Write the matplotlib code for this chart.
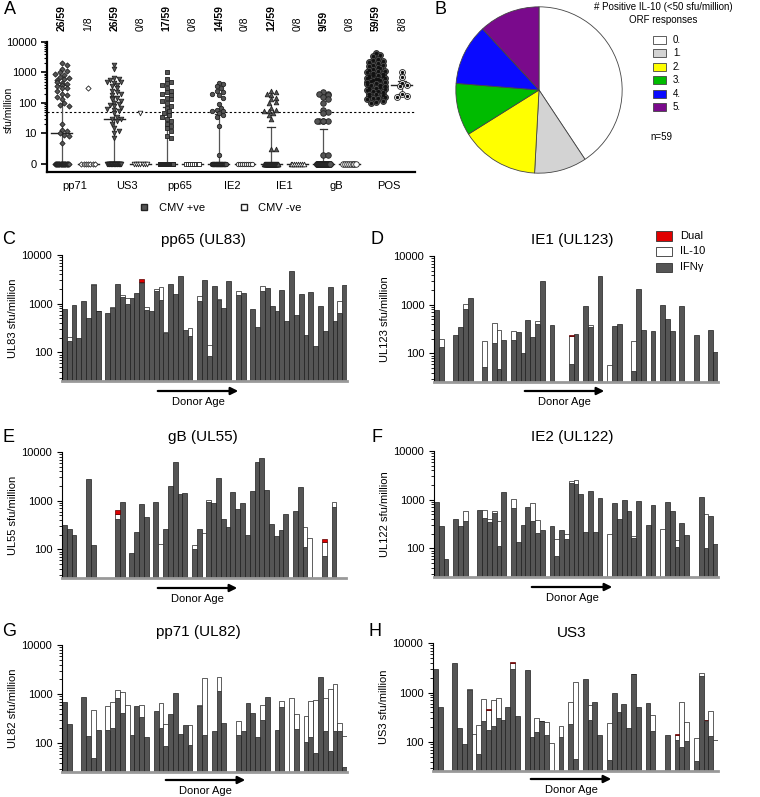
import numpy as np
import matplotlib
matplotlib.use("Agg")
import matplotlib.pyplot as plt
from matplotlib.patches import Rectangle, FancyArrowPatch
from matplotlib.lines import Line2D
from matplotlib.ticker import FixedLocator, NullFormatter

plt.rcParams['font.family'] = ['Liberation Sans', 'DejaVu Sans']

# ---------------- DATA ----------------
# panel A: sfu/million per donor (CMV+ n=59, CMV- n=8), 0 = no response
orfs = ["pp71", "US3", "pp65", "IE2", "IE1", "gB", "POS"]
pos_counts = ["26/59", "26/59", "17/59", "14/59", "12/59", "9/59", "59/59"]
neg_counts = ["1/8", "0/8", "0/8", "0/8", "0/8", "0/8", "8/8"]

pp71_pos = [2100, 1700, 1300, 1100, 1000, 900, 800, 700, 650, 600, 550, 500, 450, 420, 400,
            350, 300, 300, 250, 200, 180, 160, 130, 100, 85, 80, 20, 13, 12, 10, 9, 8, 5] + [0] * 26
us3_pos = [1800, 1300, 650, 600, 550, 500, 500, 450, 400, 350, 300, 250, 220, 200, 180, 150,
           130, 120, 100, 90, 85, 80, 70, 65, 60, 55, 45, 35, 30, 30, 25, 20, 15, 12, 10, 7] + [0] * 23
pp65_pos = [1000, 600, 500, 450, 400, 300, 250, 220, 200, 180, 150, 130, 120, 100, 80, 70, 55,
            45, 40, 35, 30, 25, 20, 18, 15, 12, 8, 7] + [0] * 31
ie2_pos = [450, 420, 350, 300, 250, 230, 200, 180, 150, 90, 70, 60, 55, 55, 45, 40, 35, 18, 2] + [0] * 40
ie1_pos = [250, 230, 200, 180, 150, 130, 110, 100, 70, 60, 55, 55, 45, 40, 30, 3, 3] + [0] * 42
gb_pos = [220, 200, 190, 180, 160, 130, 100, 60, 52, 45, 25, 25, 25, 25, 25, 2, 2] + [0] * 42
posctl_pos = [4500, 3800, 3500, 2800, 2500, 2300, 2200, 2000, 1800, 1700,
              1600, 1500, 1400, 1300, 1200, 1150, 1100, 1000, 950, 900,
              850, 800, 780, 750, 700, 680, 650, 620, 600, 580,
              550, 520, 500, 480, 450, 430, 400, 380, 360, 340,
              320, 300, 290, 280, 260, 250, 240, 220, 200, 190,
              180, 170, 160, 150, 140, 130, 120, 110, 100]

pp71_neg = [300, 0, 0, 0, 0, 0, 0, 0]
us3_neg = [45, 0, 0, 0, 0, 0, 0, 0]
pp65_neg = [0, 0, 0, 0, 0, 0, 0, 0]
ie2_neg = [0, 0, 0, 0, 0, 0, 0, 0]
ie1_neg = [0, 0, 0, 0, 0, 0, 0, 0]
gb_neg = [0, 0, 0, 0, 0, 0, 0, 0]
posctl_neg = [1000, 700, 450, 400, 350, 200, 170, 160]

# panel B: number of positive IL-10 ORF responses per donor
pie_labels = ["0.", "1.", "2.", "3.", "4.", "5."]
pie_counts = [24, 6, 9, 6, 7, 7]

# panels C-H: per donor (ordered by age), IFNg, IL-10 and dual sfu/million, 0 = none
pp65_ifn = [790, 175, 925, 200, 1130, 512, 2450, 710, 0, 660, 830, 2580, 1365, 1000, 1300, 1700, 2650, 755, 720, 1860,
            1220, 246, 2580, 1620, 3640, 288, 218, 0, 1130, 3070, 85, 2350, 1170, 830, 2970, 0, 1545, 1670, 0, 770,
            326, 1800, 2110, 880, 710, 1890, 445, 4590, 580, 1570, 228, 1780, 133, 880, 275, 2180, 438, 647, 2460]
pp65_il10 = [0, 36, 0, 0, 0, 0, 60, 10, 0, 0, 30, 0, 155, 300, 0, 0, 200, 100, 0, 120,
             1030, 16, 0, 0, 0, 0, 98, 0, 300, 0, 58, 0, 90, 0, 0, 0, 255, 0, 0, 0,
             0, 550, 0, 0, 0, 0, 0, 0, 0, 0, 0, 0, 0, 0, 0, 0, 0, 483, 0]
pp65_dual = [0, 0, 0, 0, 0, 0, 0, 0, 0, 0, 0, 0, 0, 0, 0, 0, 300, 0, 0, 0,
             0, 0, 0, 0, 0, 0, 0, 0, 0, 0, 0, 0, 0, 0, 0, 0, 0, 0, 0, 0,
             0, 0, 0, 0, 0, 0, 0, 0, 0, 0, 0, 0, 0, 0, 0, 0, 0, 0, 0]

ie1_ifn = [790, 137, 0, 0, 237, 350, 830, 1390, 0, 0, 52, 0, 165, 47, 187, 0, 193, 272, 103, 494,
           218, 397, 3040, 0, 379, 0, 0, 0, 62, 248, 0, 925, 350, 0, 3900, 0, 0, 373, 410, 0,
           0, 43, 2120, 300, 0, 290, 0, 970, 502, 290, 0, 925, 0, 0, 244, 0, 0, 309, 108]
ie1_il10 = [0, 59, 0, 0, 0, 0, 186, 0, 0, 0, 130, 0, 251, 253, 0, 0, 97, 0, 0, 0,
            0, 60, 0, 0, 0, 0, 0, 0, 164, 0, 0, 0, 40, 0, 0, 0, 56, 0, 0, 0,
            0, 139, 0, 0, 0, 0, 0, 0, 0, 0, 0, 0, 0, 0, 0, 0, 0, 0, 0]
ie1_dual = [0, 0, 0, 0, 0, 0, 0, 0, 0, 0, 0, 0, 0, 0, 0, 0, 0, 0, 0, 0,
            0, 0, 0, 0, 0, 0, 0, 0, 18, 0, 0, 0, 0, 0, 0, 0, 0, 0, 0, 0,
            0, 0, 0, 0, 0, 0, 0, 0, 0, 0, 0, 0, 0, 0, 0, 0, 0, 0, 0]

gb_ifn = [311, 258, 197, 0, 0, 2790, 123, 0, 0, 0, 0, 430, 940, 0, 83, 227, 854, 455, 0, 924,
          0, 258, 2000, 6120, 1350, 1440, 0, 103, 258, 0, 940, 910, 2870, 427, 283, 1480, 674, 900, 200, 1580,
          6300, 7500, 1630, 340, 190, 250, 525, 0, 625, 1900, 115, 0, 0, 0, 75, 0, 750, 0, 0]
gb_il10 = [0, 0, 0, 0, 0, 0, 0, 0, 0, 0, 0, 100, 0, 0, 0, 0, 0, 0, 0, 0,
           130, 0, 0, 0, 0, 0, 0, 22, 0, 213, 76, 0, 0, 0, 0, 0, 0, 0, 0, 0,
           0, 0, 0, 0, 0, 0, 0, 0, 0, 0, 173, 175, 0, 0, 70, 0, 200, 0, 0]
gb_dual = [0, 0, 0, 0, 0, 0, 0, 0, 0, 0, 0, 110, 0, 0, 0, 0, 0, 0, 0, 0,
           0, 0, 0, 0, 0, 0, 0, 0, 0, 0, 0, 0, 0, 0, 0, 0, 0, 0, 0, 0,
           0, 0, 0, 0, 0, 0, 0, 0, 0, 0, 0, 0, 0, 0, 20, 0, 0, 0, 0]

ie2_ifn = [910, 284, 62, 0, 406, 284, 364, 0, 0, 617, 425, 347, 537, 111, 1450, 0, 667, 135, 297, 720,
           375, 208, 235, 0, 292, 70, 242, 160, 2250, 2140, 1300, 218, 1520, 218, 1080, 0, 0, 870, 406, 1000,
           600, 167, 955, 0, 297, 790, 0, 0, 883, 600, 105, 337, 187, 0, 0, 1150, 100, 467, 122]
ie2_il10 = [0, 0, 0, 0, 0, 0, 216, 0, 0, 0, 192, 59, 63, 253, 0, 0, 363, 0, 0, 0,
            480, 179, 0, 0, 0, 90, 0, 41, 180, 360, 0, 0, 0, 0, 0, 0, 201, 0, 0, 0,
            0, 11, 0, 0, 0, 0, 0, 246, 0, 0, 47, 0, 0, 0, 0, 0, 412, 0, 0]
ie2_dual = [0] * 59

pp71_ifn = [700, 246, 0, 0, 883, 143, 50, 189, 0, 189, 205, 817, 412, 0, 150, 580, 337, 137, 0, 459,
            205, 86, 393, 1050, 154, 239, 93, 0, 580, 150, 0, 175, 1170, 260, 0, 0, 145, 178, 657, 412,
            137, 297, 855, 0, 186, 537, 0, 0, 195, 0, 108, 137, 63, 2280, 180, 70, 180, 175, 33]
pp71_il10 = [0, 0, 0, 0, 0, 0, 431, 0, 0, 373, 495, 383, 698, 600, 0, 0, 271, 0, 0, 0,
             452, 160, 0, 0, 0, 0, 142, 0, 28, 2030, 0, 0, 1080, 0, 0, 0, 145, 0, 0, 0,
             0, 303, 0, 0, 0, 196, 0, 817, 198, 0, 245, 596, 705, 0, 637, 1190, 1460, 79, 105]
pp71_dual = [0] * 59

us3_ifn = [2930, 501, 0, 0, 3980, 191, 90, 1130, 0, 58, 271, 179, 215, 302, 280, 501, 3020, 331, 0, 2800,
           126, 158, 263, 140, 0, 0, 124, 0, 229, 46, 0, 1850, 284, 631, 140, 0, 44, 970, 410, 584,
           194, 2350, 501, 0, 612, 166, 0, 0, 140, 0, 112, 80, 103, 0, 42, 2150, 263, 130, 0]
us3_il10 = [0, 0, 0, 0, 0, 0, 0, 36, 147, 164, 465, 271, 487, 480, 0, 0, 960, 0, 0, 0,
            0, 149, 7, 111, 96, 0, 91, 0, 422, 1587, 0, 0, 274, 0, 0, 0, 196, 0, 0, 0,
            0, 60, 0, 0, 0, 186, 0, 0, 0, 0, 24, 551, 148, 0, 78, 360, 12, 287, 108]
us3_dual = [0, 0, 0, 0, 0, 0, 0, 0, 0, 0, 0, 15, 0, 0, 0, 0, 250, 0, 0, 0,
            0, 0, 0, 0, 0, 0, 0, 0, 0, 0, 0, 0, 0, 0, 0, 0, 0, 0, 0, 0,
            0, 0, 0, 0, 0, 0, 0, 0, 0, 0, 8, 0, 0, 0, 0, 0, 10, 0, 0]

# ---------------- FIGURE ----------------
W, H = 760, 797
fig = plt.figure(figsize=(7.6, 7.97), dpi=100)


def add_ax(l, t, r, b):
    return fig.add_axes([l / W, 1 - b / H, (r - l) / W, (b - t) / H])


def fxy(x, y):
    return (x / W, 1 - y / H)


def ftext(x, y, s, **kw):
    kw.setdefault("ha", "center")
    kw.setdefault("va", "center")
    fig.text(x / W, 1 - y / H, s, **kw)


# ---- panel A ----
axA = add_ax(47, 42, 415, 172)
axA.set_yscale("log")
axA.set_ylim(0.54, 10000)
axA.set_xlim(-0.57, 13.5)
PX_UNIT = (402 - 62) / 13.0
PX_DEC = 30.3


def swarm(vals, ms=4.2, maxw=10.0):
    vals = np.asarray(vals, float)
    y = np.log10(np.maximum(vals, 1)) * PX_DEC
    offs = np.zeros(len(vals))
    zi = np.where(vals <= 0)[0]
    if len(zi) > 1:
        offs[zi] = np.linspace(-0.8 * maxw, 0.8 * maxw, len(zi))
    step = ms * 0.55
    cands = [0.0]
    k = 1
    while k * step <= maxw:
        cands += [k * step, -k * step]
        k += 1
    placed = []
    nz = [i for i in np.argsort(-y) if vals[i] > 0]
    for n, i in enumerate(nz):
        best = None
        for c in cands:
            if all((c - px) ** 2 + (y[i] - py) ** 2 >= (ms * 0.9) ** 2 for px, py in placed):
                best = c
                break
        if best is None:
            best = cands[n % len(cands)]
        offs[i] = best
        placed.append((best, y[i]))
    return offs / PX_UNIT


groups_pos = [pp71_pos, us3_pos, pp65_pos, ie2_pos, ie1_pos, gb_pos, posctl_pos]
groups_neg = [pp71_neg, us3_neg, pp65_neg, ie2_neg, ie1_neg, gb_neg, posctl_neg]
markers = ["D", "v", "s", "o", "^", "o", "o"]
msizes = [7, 11, 10, 10, 11, 16, 18]

for g in range(7):
    for j, (vals, face) in enumerate([(groups_pos[g], "#555555"), (groups_neg[g], "white")]):
        xc = 2 * g + j
        v = np.asarray(vals, float)
        maxw = 11 if g == 6 else 8.5
        xs = xc + swarm(v, maxw=maxw)
        ys = np.maximum(v, 1)
        # median with interquartile range
        med = max(np.median(v), 1)
        q1, q3 = max(np.percentile(v, 25), 1), max(np.percentile(v, 75), 1)
        axA.plot([xc, xc], [q1, q3], color="#555555", lw=0.9, zorder=1)
        axA.plot([xc - 0.15, xc + 0.15], [q3, q3], color="#333333", lw=0.9, zorder=1)
        axA.plot([xc - 0.15, xc + 0.15], [q1, q1], color="#333333", lw=0.9, zorder=1)
        axA.plot([xc - 0.4, xc + 0.4], [med, med], color="#222222", lw=1.0, zorder=1)
        axA.scatter(xs, ys, marker=markers[g], s=msizes[g], facecolor=face,
                    edgecolor="#222222", linewidth=0.6, zorder=3)
        if g == 6:
            axA.scatter(xs, ys, marker="o", s=2.0, color="#111111", zorder=4)
        # response counts on top
        ftext(62 + PX_UNIT * xc, 31, pos_counts[g] if j == 0 else neg_counts[g],
              rotation=90, va="bottom", fontsize=7.5,
              fontweight="bold" if j == 0 else "normal")
    ftext(62 + PX_UNIT * (2 * g + 0.5), 186, orfs[g], fontsize=8)

axA.axhline(50, color="black", lw=0.8, ls=(0, (2, 2)), zorder=0)
axA.set_yticks([1, 10, 100, 1000, 10000])
axA.set_yticklabels(["0", "10", "100", "1000", "10000"], fontsize=8)
axA.yaxis.set_minor_locator(FixedLocator([k * 10 ** d for d in range(1, 4) for k in range(2, 10)]))
axA.yaxis.set_minor_formatter(NullFormatter())
axA.set_xticks([])
for s in ["top", "right"]:
    axA.spines[s].set_visible(False)
axA.spines["left"].set_linewidth(1.6)
axA.spines["bottom"].set_linewidth(1.6)
axA.tick_params(axis="y", which="major", width=1.2, length=4)
axA.tick_params(axis="y", which="minor", width=0.8, length=2)
axA.set_ylabel("sfu/million", fontsize=7.5)
axA.yaxis.set_label_coords(-0.09, 0.48)

leg_handles = [Line2D([], [], marker="s", ls="", ms=4, mfc="#555555", mec="#222222"),
               Line2D([], [], marker="s", ls="", ms=4, mfc="white", mec="#222222")]
fig.legend(leg_handles, ["CMV +ve", "CMV -ve"], loc="center", bbox_to_anchor=fxy(220, 208),
           ncol=2, frameon=False, fontsize=8, handlelength=1, columnspacing=3)

# ---- panel B ----
axB = add_ax(539 - 84, 90 - 84, 539 + 84, 90 + 84)
pie_colors = ["white", "#d3d3d3", "#ffff00", "#00bb00", "#0a0aff", "#7a0a8c"]
axB.pie(pie_counts, colors=pie_colors, startangle=90, counterclock=False,
        wedgeprops=dict(edgecolor="#444444", linewidth=0.6))
axB.set_xlim(-1.01, 1.01)
axB.set_ylim(-1.01, 1.01)
ftext(663, 7, "# Positive IL-10 (<50 sfu/million)", fontsize=7)
ftext(663, 20, "ORF responses", fontsize=7)
for i, (lab, col) in enumerate(zip(pie_labels, pie_colors)):
    yc = 40 + i * 13.4
    fig.add_artist(Rectangle(fxy(653, yc + 4), 13 / W, 8 / H, transform=fig.transFigure,
                             facecolor=col, edgecolor="#444444", lw=0.6))
    ftext(673, yc, lab, fontsize=7, ha="left")
ftext(650, 137, "n=59", fontsize=7, ha="left")

# ---- panels C-H ----
bar_panels = [
    ("pp65 (UL83)", "UL83 sfu/million", pp65_ifn, pp65_il10, pp65_dual, (62, 255, 347, 381), (203, 240)),
    ("IE1 (UL123)", "UL123 sfu/million", ie1_ifn, ie1_il10, ie1_dual, (434, 256, 718, 382), (572, 240)),
    ("gB (UL55)", "UL55 sfu/million", gb_ifn, gb_il10, gb_dual, (62, 452, 346, 578), (203, 437)),
    ("IE2 (UL122)", "UL122 sfu/million", ie2_ifn, ie2_il10, ie2_dual, (434, 451, 718, 577), (572, 437)),
    ("pp71 (UL82)", "UL82 sfu/million", pp71_ifn, pp71_il10, pp71_dual, (62, 645, 347, 772), (198, 632)),
    ("US3", "US3 sfu/million", us3_ifn, us3_il10, us3_dual, (433, 643, 718, 771), (572, 633)),
]
arrows = [((155, 391), (241, 391)), ((522, 391), (607, 391)), ((155, 588), (240, 588)),
          ((529, 587), (615, 587)), ((163, 780), (248, 780)), ((528, 779), (614, 779))]

for (title, ylab, ifn, il10, dual, box, tpos), (a0, a1) in zip(bar_panels, arrows):
    ax = add_ax(*box)
    ax.set_yscale("log")
    x = np.arange(1, 60)
    ifn = np.asarray(ifn, float)
    il10 = np.asarray(il10, float)
    dual = np.asarray(dual, float)
    base = 1.0
    m = ifn > 0
    ax.bar(x[m], ifn[m] - base, bottom=base, width=1, color="#555555", edgecolor="#1e1e1e", linewidth=0.5)
    low = np.maximum(ifn, base)
    m = il10 > 0
    ax.bar(x[m], il10[m], bottom=low[m], width=1, color="white", edgecolor="#1e1e1e", linewidth=0.5)
    top = low + il10
    m = dual > 0
    ax.bar(x[m], dual[m], bottom=top[m], width=1, color="#e00000", edgecolor="#5a0000", linewidth=0.5)
    ax.set_ylim(26, 10000)
    ax.set_xlim(0.5, 59.5)
    ax.set_xticks([])
    ax.set_yticks([100, 1000, 10000])
    ax.set_yticklabels(["100", "1000", "10000"], fontsize=8)
    ax.yaxis.set_minor_formatter(NullFormatter())
    ax.tick_params(axis="y", which="major", length=3.5, width=0.8)
    ax.tick_params(axis="y", which="minor", length=2, width=0.6)
    for s in ["top", "right"]:
        ax.spines[s].set_visible(False)
    ax.spines["left"].set_linewidth(0.8)
    ax.spines["bottom"].set_color("#999999")
    ax.spines["bottom"].set_linewidth(2)
    ax.set_ylabel(ylab, fontsize=8)
    ax.yaxis.set_label_coords(-0.155, 0.5)
    ftext(tpos[0], tpos[1], title, fontsize=11)
    fig.add_artist(FancyArrowPatch(fxy(*a0), fxy(*a1), transform=fig.transFigure,
                                   arrowstyle="-|>", mutation_scale=11, lw=1.6, color="black"))
    ftext((a0[0] + a1[0]) / 2, a0[1] + 11, "Donor Age", fontsize=8)

# legend of the bar panels
for i, (lab, col) in enumerate([("Dual", "#e00000"), ("IL-10", "white"), ("IFN\u03b3", "#555555")]):
    yc = 236 + i * 15.5
    fig.add_artist(Rectangle(fxy(656, yc + 4.5), 16 / W, 9 / H, transform=fig.transFigure,
                             facecolor=col, edgecolor="#333333", lw=0.6))
    ftext(680, yc, lab, fontsize=8, ha="left")

# panel letters
for lab, (lx, ly) in zip("ABCDEFGH", [(10, 9), (441, 9), (9, 240), (377, 240),
                                      (9, 437), (377, 437), (9, 632), (375, 632)]):
    ftext(lx, ly, lab, fontsize=13)

fig.savefig("out.png", dpi=100)
